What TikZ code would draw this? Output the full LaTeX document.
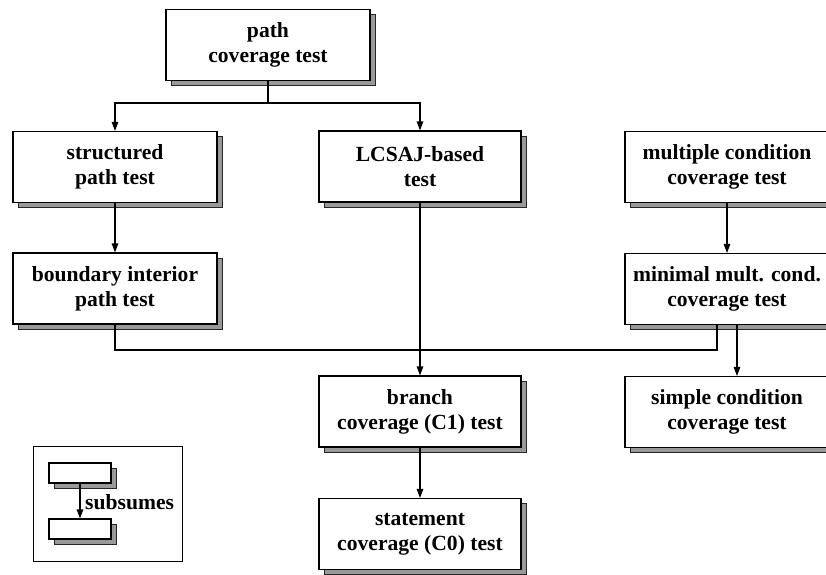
\documentclass[tikz,border=0pt]{standalone}
\usepackage{fontspec}
\setmainfont{Liberation Serif}
\usetikzlibrary{arrows.meta,shadows,calc}
\begin{document}
\begin{tikzpicture}[x=1pt,y=-1pt,
  box/.style={draw=black, line width=1.1pt, fill=white, minimum width=204pt, minimum height=71pt,
    align=center, inner sep=0pt, font=\fontsize{21.6}{25}\selectfont\bfseries,
    drop shadow={shadow xshift=5pt, shadow yshift=-5pt, fill=black!40, draw=black!85, line width=0.8pt, opacity=1}},
  small/.style={draw=black, line width=1.1pt, fill=white, minimum width=62pt, minimum height=20pt, inner sep=0pt,
    drop shadow={shadow xshift=5pt, shadow yshift=-5pt, fill=black!40, draw=black!85, line width=0.8pt, opacity=1}},
  con/.style={line width=1.1pt},
  arr/.style={line width=1.1pt, -{Triangle[length=9pt,width=6.5pt]}}]
\useasboundingbox (0,0) rectangle (826,574);
\clip (0,0) rectangle (826,574);
\node[box] (path) at (268,45) {path\\coverage test};
\node[box] (struct) at (115,167) {structured\\path test};
\node[box, minimum width=202pt] (lcsaj) at (420,166.5) {LCSAJ-based\\test};
\node[box] (multi) at (727,167) {multiple condition\\coverage test};
\node[box] (bound) at (115,288.5) {boundary interior\\path test};
\node[box] (minimal) at (727,289) {minimal mult. cond.\\coverage test};
\node[box, minimum width=202pt] (branch) at (420,411.5) {branch\\coverage (C1) test};
\node[box] (simple) at (727,412) {simple condition\\coverage test};
\node[box, minimum width=202pt] (stmt) at (420,534) {statement\\coverage (C0) test};

\coordinate (j1) at (268,103);
\draw[con] (path.south) -- (j1);
\draw[arr] (j1) -| (struct.north);
\draw[arr] (j1) -| (lcsaj.north);
\draw[arr] (struct.south) -- (bound.north);
\draw[arr] (multi.south) -- (minimal.north);
\draw[arr] (lcsaj.south) -- (branch.north);
\draw[arr] (branch.south) -- (stmt.north);
\coordinate (mL) at ($(minimal.south)+(-10,0)$);
\coordinate (hl) at (0,350);
\draw[con] (bound.south) |- (hl -| mL) -- (mL);
\draw[arr] ($(minimal.south)+(10,0)$) -- ($(simple.north)+(10,0)$);

% legend
\node[draw=black, line width=1pt, minimum width=149pt, minimum height=115pt, inner sep=0pt] (legend) at (107.5,503.5) {};
\node[small] (lg1) at (80,473) {};
\node[small] (lg2) at (80,529) {};
\draw[arr] (lg1.south) -- (lg2.north);
\node[anchor=west, inner sep=0pt, font=\fontsize{21.6}{25}\selectfont\bfseries] (lbl) at (85,502) {subsumes};
\end{tikzpicture}
\end{document}
